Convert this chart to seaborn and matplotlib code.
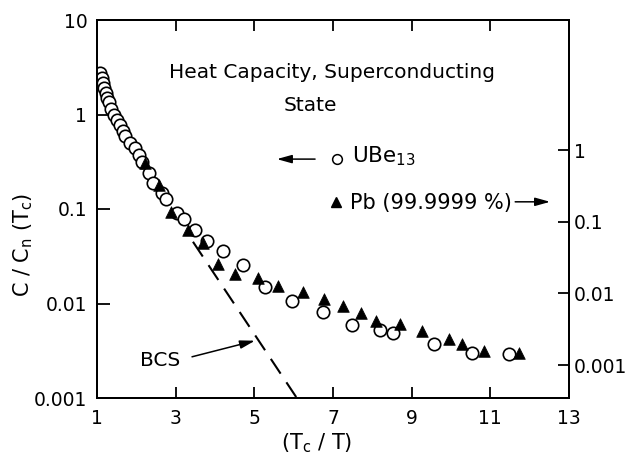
import matplotlib
matplotlib.use("Agg")
import matplotlib.pyplot as plt
import seaborn as sns
from matplotlib.ticker import FixedLocator, FixedFormatter, NullLocator

# ---- data ----
ube_x = [1.08, 1.12, 1.145, 1.18, 1.22, 1.25, 1.30, 1.36, 1.43, 1.50, 1.58, 1.66,
         1.71, 1.84, 1.97, 2.07, 2.14, 2.32, 2.43, 2.645, 2.75, 3.03, 3.21, 3.49,
         3.79, 4.21, 4.72, 5.27, 5.97, 6.74, 7.48, 8.20, 8.52, 9.57, 10.53, 11.48]
ube_y = [2.75, 2.43, 2.15, 1.9, 1.69, 1.51, 1.36, 1.14, 0.99, 0.875, 0.774, 0.674,
         0.59, 0.503, 0.443, 0.373, 0.317, 0.24, 0.187, 0.149, 0.128, 0.090, 0.078, 0.060,
         0.046, 0.036, 0.0255, 0.0148, 0.0106, 0.0081, 0.0059, 0.00524, 0.00484, 0.00372,
         0.00297, 0.0029]

pb_x = [2.22, 2.57, 2.88, 3.32, 3.70, 4.08, 4.51, 5.10, 5.59, 6.23, 6.77, 7.26,
        7.71, 8.09, 8.70, 9.26, 9.96, 10.27, 10.85, 11.73]
pb_y = [0.653, 0.325, 0.138, 0.0766, 0.050, 0.0255, 0.0187, 0.0166, 0.0128, 0.01057,
        0.00828, 0.00667, 0.00538, 0.00416, 0.00374, 0.00299, 0.00231, 0.00195,
        0.00157, 0.00146]

bcs_x = [3.44, 6.08]
bcs_y = [0.045, 0.001]

x_ticks = [1, 3, 5, 7, 9, 11, 13]
left_ticks = [0.001, 0.01, 0.1, 1, 10]
left_labels = ["0.001", "0.01", "0.1", "1", "10"]
right_ticks = [0.001, 0.01, 0.1, 1]
right_labels = ["0.001", "0.01", "0.1", "1"]

# ---- style ----
sns.set_style("ticks")
plt.rcParams['font.family'] = ['DejaVu Sans']
plt.rcParams['mathtext.fontset'] = 'dejavusans'
plt.rcParams['text.color'] = 'black'
plt.rcParams['axes.labelcolor'] = 'black'
plt.rcParams['xtick.color'] = 'black'
plt.rcParams['ytick.color'] = 'black'

fig = plt.figure(figsize=(6.28, 4.54), dpi=100)
ax = fig.add_axes([97 / 628, 56 / 454, 472 / 628, 378 / 454])
ax2 = ax.twinx()

# BCS dashed line
sns.lineplot(x=bcs_x, y=bcs_y, ax=ax, color='black', lw=1.5,
             linestyle=(0, (8.5, 5)), sort=False, estimator=None)

# UBe13 open circles (left axis)
sns.scatterplot(x=ube_x, y=ube_y, ax=ax, marker='o', s=80, color='white',
                edgecolor='black', linewidth=1.2, zorder=3)

# Pb filled triangles (right axis)
sns.scatterplot(x=pb_x, y=pb_y, ax=ax2, marker='^', s=70, color='black',
                edgecolor='black', linewidth=0.5, zorder=3)

for a in (ax, ax2):
    a.set_yscale('log')
    for sp in a.spines.values():
        sp.set_linewidth(1.4)
        sp.set_color('black')

ax.set_xlim(1, 13)
ax.set_ylim(0.001, 10)
ax2.set_ylim(3.48e-4, 65.0)

ax.xaxis.set_major_locator(FixedLocator(x_ticks))
ax.set_xticklabels([str(v) for v in x_ticks])
ax.yaxis.set_major_locator(FixedLocator(left_ticks))
ax.yaxis.set_major_formatter(FixedFormatter(left_labels))
ax.yaxis.set_minor_locator(NullLocator())
ax2.yaxis.set_major_locator(FixedLocator(right_ticks))
ax2.yaxis.set_major_formatter(FixedFormatter(right_labels))
ax2.yaxis.set_minor_locator(NullLocator())

ax.tick_params(axis='x', direction='in', length=8, width=1.3, top=True,
               labelsize=13.5, pad=8)
ax.tick_params(axis='y', direction='in', length=9, width=1.3, right=False,
               labelsize=13.5, pad=7)
ax2.tick_params(axis='y', direction='in', length=8, width=1.3,
                labelsize=13.5, pad=3.5)

# axis labels
ax.set_xlabel("(T$_\\mathrm{c}$ / T)", fontsize=15)
ax.xaxis.set_label_coords(0.466, -0.088)
ax.set_ylabel("C / C$_\\mathrm{n}$ (T$_\\mathrm{c}$)", fontsize=15, va='center')
ax.yaxis.set_label_coords(-0.157, 0.405)
ax2.set_ylabel("")

# annotations
ax.text(0.4985, 0.860, "Heat Capacity, Superconducting", ha='center', va='center',
        fontsize=14.5, transform=ax.transAxes)
ax.text(0.452, 0.775, "State", ha='center', va='center', fontsize=14.5,
        transform=ax.transAxes)

arrow = dict(arrowstyle='-|>,head_length=0.9,head_width=0.25', lw=1.1,
             color='black', shrinkA=0, shrinkB=0)

ax.annotate("", xy=(0.381, 0.632), xytext=(0.462, 0.632), xycoords='axes fraction',
            textcoords='axes fraction', arrowprops=arrow)
ax.plot([0.508], [0.632], marker='o', ms=7, mfc='white', mec='black', mew=1.1,
        transform=ax.transAxes, clip_on=False, ls='none')
ax.text(0.540, 0.624, "UBe$_{13}$", ha='left', va='baseline', fontsize=15.5,
        transform=ax.transAxes)

ax.plot([0.506], [0.519], marker='^', ms=7, mfc='black', mec='black',
        transform=ax.transAxes, clip_on=False, ls='none')
ax.text(0.536, 0.500, "Pb (99.9999 %)", ha='left', va='baseline', fontsize=15,
        transform=ax.transAxes)
ax.annotate("", xy=(0.960, 0.519), xytext=(0.886, 0.519), xycoords='axes fraction',
            textcoords='axes fraction', arrowprops=arrow)

ax.text(0.1335, 0.098, "BCS", ha='center', va='center', fontsize=14.5,
        transform=ax.transAxes)
ax.annotate("", xy=(0.3347, 0.1516), xytext=(0.2013, 0.109), xycoords='axes fraction',
            textcoords='axes fraction', arrowprops=arrow)

fig.savefig("out.png", dpi=100)
